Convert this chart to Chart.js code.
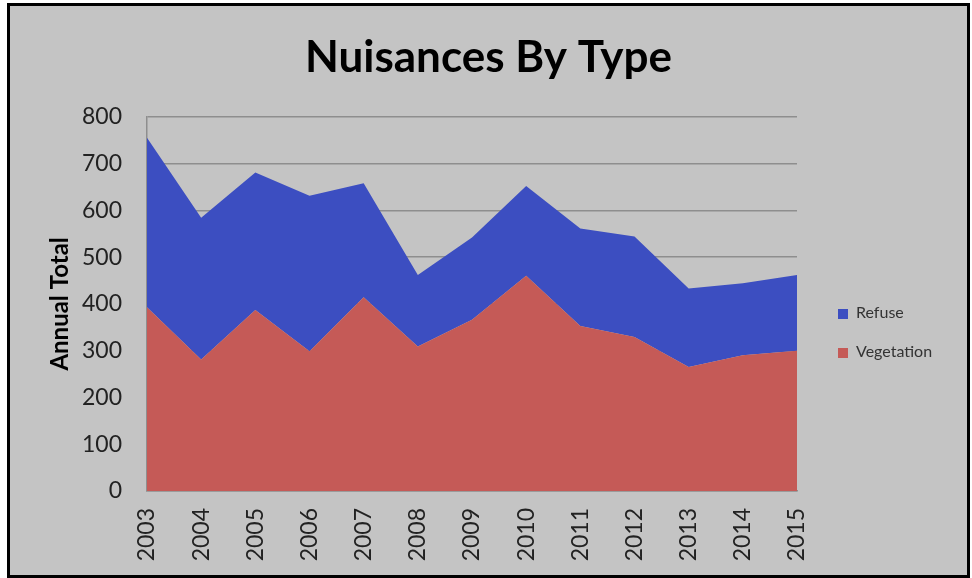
<!DOCTYPE html>
<html>
<head>
<meta charset="utf-8">
<script src="https://cdn.jsdelivr.net/npm/chart.js@4.4.0/dist/chart.umd.min.js"></script>
<style>
  body { margin: 0; background: #fff; }
  #frame {
    position: absolute; left: 7px; top: 3px;
    width: 957px; height: 569px;
    border: 3px solid #000;
    background: #c4c4c4;
  }
  #chart { position: absolute; left: 0; top: 0; }
  .legend { position: absolute; left: 828px; font: 16px Lato, sans-serif; color: #333; }
  .legend span { display: inline-block; width: 10px; height: 10px; margin-right: 8px; vertical-align: -1px; }
</style>
</head>
<body>
<div id="frame">
  <canvas id="chart" width="957" height="569"></canvas>
  <div id="legend"></div>
</div>
<script>
// Nuisances by year
const years = ['2003', '2004', '2005', '2006', '2007', '2008', '2009', '2010', '2011', '2012', '2013', '2014', '2015'];
const vegetation = [393, 281, 387, 299, 414, 309, 366, 460, 353, 329, 265, 290, 300];
const refuse = [362, 303, 294, 332, 244, 153, 176, 192, 208, 215, 168, 154, 162];
const yTicks = [0, 100, 200, 300, 400, 500, 600, 700, 800];

const tickFont = { family: 'Lato', size: 23 };

const datasets = [
    {
        label: 'Vegetation',
        data: vegetation,
        backgroundColor: '#c55a57',
        borderColor: '#c55a57',
        borderWidth: 0,
        pointRadius: 0,
        tension: 0,
        fill: 'origin'
    },
    {
        label: 'Refuse',
        data: refuse,
        backgroundColor: '#3c4ec1',
        borderColor: '#3c4ec1',
        borderWidth: 0,
        pointRadius: 0,
        tension: 0,
        fill: '-1'
    }
];

new Chart(document.getElementById('chart').getContext('2d'), {
    type: 'line',
    data: { labels: years, datasets: datasets },
    options: {
        responsive: false,
        animation: false,
        devicePixelRatio: 1,
        layout: { padding: 0 },
        plugins: {
            legend: { display: false },
            tooltip: { enabled: false },
            title: {
                display: true,
                text: 'Nuisances By Type',
                color: '#000',
                font: { family: 'Lato', size: 44, weight: 'bold' },
                padding: { top: 25, bottom: 33 }
            }
        },
        scales: {
            x: {
                offset: false,
                grid: { display: false, drawTicks: false },
                border: { display: true, color: '#8e8e8e', width: 1.5 },
                ticks: {
                    color: '#222',
                    font: tickFont,
                    minRotation: 90,
                    maxRotation: 90,
                    padding: 17,
                    autoSkip: false
                },
                afterFit: s => { s.height = 84; }
            },
            y: {
                stacked: true,
                min: 0,
                max: 800,
                afterBuildTicks: s => { s.ticks = yTicks.map(v => ({ value: v })); },
                grid: { color: '#8e8e8e', lineWidth: 1.5, drawTicks: false },
                border: { display: true, color: '#8e8e8e', width: 1.5 },
                ticks: { color: '#222', font: tickFont, padding: 25 },
                title: {
                    display: true,
                    text: 'Annual Total',
                    color: '#000',
                    font: { family: 'Lato', size: 24, weight: 'bold' },
                    padding: { top: 36, bottom: 0 }
                },
                afterFit: s => { s.width = 137; }
            },
            // empty right-hand scale that leaves room for the legend
            yRight: {
                position: 'right',
                min: 0,
                max: 800,
                grid: { display: false, drawTicks: false },
                border: { display: false },
                ticks: { display: false },
                afterFit: s => { s.width = 170; }
            }
        }
    }
});

// legend, refuse on top
const legend = document.getElementById('legend');
[datasets[1], datasets[0]].forEach((d, i) => {
    const item = document.createElement('div');
    item.className = 'legend';
    item.style.top = (296 + i * 39) + 'px';
    item.innerHTML = '<span style="background:' + d.backgroundColor + '"></span>' + d.label;
    legend.appendChild(item);
});
</script>
</body>
</html>
